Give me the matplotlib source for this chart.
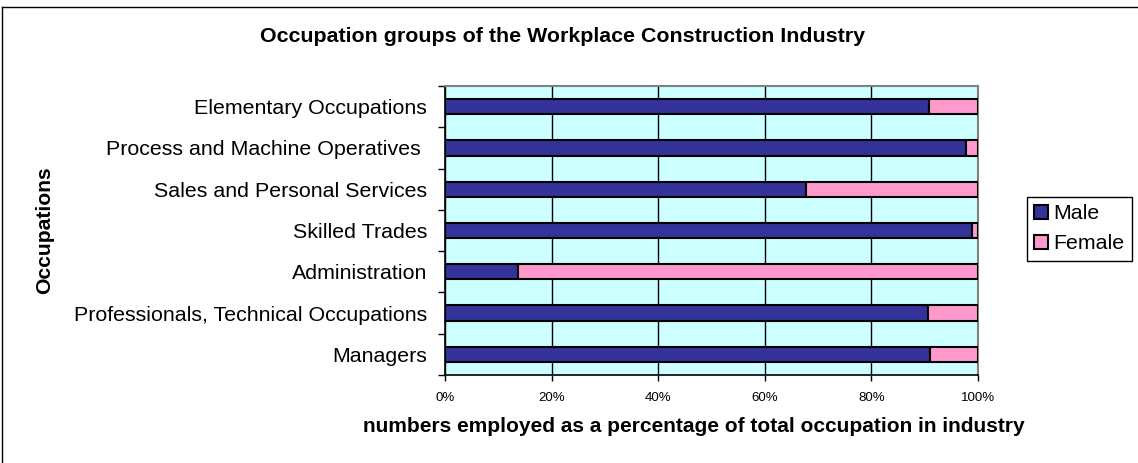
import matplotlib
matplotlib.use("Agg")
import matplotlib.pyplot as plt
from matplotlib.lines import Line2D
from matplotlib.patches import Patch
from matplotlib.ticker import FixedLocator, PercentFormatter

categories = ["Managers", "Professionals, Technical Occupations", "Administration",
              "Skilled Trades", "Sales and Personal Services",
              "Process and Machine Operatives ", "Elementary Occupations"]
male = [91.0, 90.6, 13.7, 98.9, 67.7, 97.8, 90.8]
female = [100 - m for m in male]
xticks = [0, 20, 40, 60, 80, 100]

plt.rcParams['font.family'] = ['Liberation Sans', 'DejaVu Sans']

W, H = 1138, 463
fig = plt.figure(figsize=(W / 100, H / 100), dpi=100)
ax = fig.add_axes([445 / W, 1 - 375 / H, (978 - 445) / W, (375 - 86) / H])

navy = "#333399"
pink = "#FF99CC"
ax.set_facecolor("#CCFFFF")

ypos = list(range(len(categories)))
ax.barh(ypos, male, height=0.37, color=navy, edgecolor="black", linewidth=1.5, zorder=3, label="Male")
ax.barh(ypos, female, left=male, height=0.37, color=pink, edgecolor="black", linewidth=1.5, zorder=3, label="Female")

ax.set_xlim(0, 100)
ax.set_ylim(-0.5, len(categories) - 0.5)
ax.set_xticks(xticks)
ax.xaxis.set_major_formatter(PercentFormatter(decimals=0))
ax.grid(axis="x", color="black", linewidth=1, zorder=1)
ax.set_yticks(ypos)
ax.set_yticklabels(categories, fontsize=15.4)
ax.tick_params(axis="y", length=0, pad=13)
ax.yaxis.set_minor_locator(FixedLocator([i - 0.5 for i in range(len(categories) + 1)]))
ax.tick_params(axis="y", which="minor", length=5, width=1, direction="out")
ax.tick_params(axis="x", labelsize=9.5, length=4, width=1, direction="out", pad=8)

for s in ["left", "bottom"]:
    ax.spines[s].set_color("black")
    ax.spines[s].set_linewidth(1.2)
for s in ["top", "right"]:
    ax.spines[s].set_color("#808080")
    ax.spines[s].set_linewidth(1.5)

fig.text(694 / W, 1 - 427 / H,
         "numbers employed as a percentage of total occupation in industry",
         fontsize=15.0, fontweight="bold", ha="center", va="center")
fig.text(45 / W, 1 - 230 / H, "Occupations", rotation=90, fontsize=15.2, fontweight="bold",
         ha="center", va="center")
fig.text(563 / W, 1 - 37 / H, "Occupation groups of the Workplace Construction Industry",
         fontsize=15.4, fontweight="bold", ha="center", va="center")

handles = [Patch(facecolor=navy, edgecolor="black", linewidth=1.5),
           Patch(facecolor=pink, edgecolor="black", linewidth=1.5)]
leg = fig.legend(handles, ["Male", "Female"], loc="upper left",
                 bbox_to_anchor=(1027 / W, 1 - 197 / H), fontsize=15.4,
                 frameon=True, fancybox=False, edgecolor="black", framealpha=1,
                 handlelength=0.65, handleheight=0.65, handletextpad=0.25,
                 borderpad=0.35, labelspacing=0.5, borderaxespad=0)
leg.get_frame().set_linewidth(1)

# outer chart border (left and top visible)
fig.add_artist(Line2D([2 / W, 2 / W], [0, 1 - 7 / H], color="black", linewidth=1, transform=fig.transFigure))
fig.add_artist(Line2D([2 / W, 1], [1 - 7 / H, 1 - 7 / H], color="black", linewidth=1, transform=fig.transFigure))

fig.savefig("out.png", dpi=100)
